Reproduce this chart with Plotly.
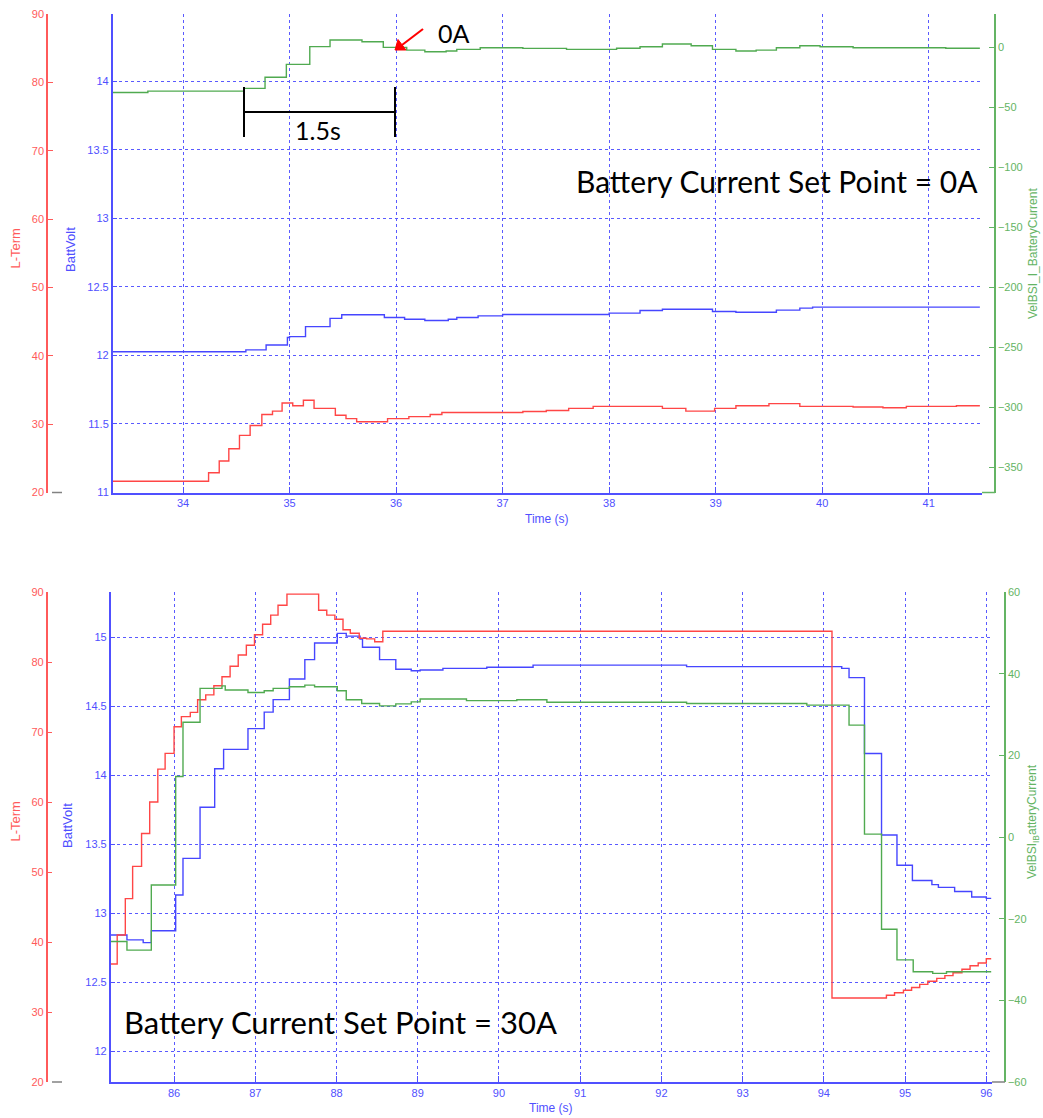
import plotly.graph_objects as go

W, H = 1043, 1118

# ---------------- data: top panel (Battery Current Set Point = 0A) ----------------
top_time_lterm = [33.34, 34.24, 34.34, 34.43, 34.53, 34.63, 34.74, 34.84, 34.93, 35.03, 35.13,
                  35.23, 35.43, 35.53, 35.63, 35.92, 36.12, 36.32, 36.43, 37.19, 37.41, 37.62,
                  37.85, 38.5, 38.72, 38.99, 39.19, 39.5, 39.79, 40.29, 40.57, 40.79, 41.26, 41.48]
top_lterm = [21.65, 22.9, 24.6, 26.4, 28.35, 29.8, 31.4, 31.9, 33.1, 32.7, 33.5,
             32.3, 31.3, 30.8, 30.35, 30.8, 31.1, 31.4, 31.7, 31.85, 32.0, 32.3,
             32.6, 32.3, 31.9, 32.3, 32.7, 33.0, 32.6, 32.5, 32.4, 32.6, 32.7, 32.7]

top_time_volt = [33.34, 34.59, 34.78, 34.98, 35.0, 35.15, 35.38, 35.49, 35.89, 36.08, 36.27,
                 36.49, 36.57, 36.77, 37.0, 38.0, 38.29, 38.5, 38.97, 39.19, 39.57, 39.79,
                 39.91, 41.48]
top_volt = [12.027, 12.04, 12.076, 12.13, 12.137, 12.21, 12.27, 12.296, 12.276, 12.264, 12.254,
            12.264, 12.276, 12.288, 12.298, 12.308, 12.327, 12.337, 12.32, 12.315, 12.33, 12.345,
            12.352, 12.352]

top_time_curr = [33.34, 33.67, 34.57, 34.77, 34.97, 35.19, 35.38, 35.68, 35.88, 36.1, 36.27,
                 36.47, 36.57, 36.79, 37.19, 37.6, 38.07, 38.29, 38.5, 38.77, 38.97, 39.19,
                 39.38, 39.57, 39.79, 39.98, 40.29, 41.16, 41.48]
top_curr = [-37.4, -36.3, -34.0, -24.8, -14.0, 0.8, 6.3, 4.9, 0.2, -2.1, -3.5,
            -2.9, -1.5, -0.1, -0.7, -1.5, -0.6, 0.7, 3.0, 1.5, -1.5, -2.9,
            -2.1, -0.1, 1.5, 0.7, -0.1, -0.6, -0.6]

top_xticks = [34, 35, 36, 37, 38, 39, 40, 41]

# ---------------- data: bottom panel (Battery Current Set Point = 30A) ----------------
bot_time_lterm = [85.22, 85.30, 85.40, 85.49, 85.60, 85.70, 85.80, 85.89, 86.0, 86.09, 86.2,
                  86.29, 86.39, 86.49, 86.59, 86.69, 86.79, 86.89, 86.99, 87.09, 87.19, 87.28,
                  87.39, 87.78, 87.88, 87.98, 88.08, 88.17, 88.28, 88.37, 88.47, 88.57, 94.10,
                  94.77, 94.87, 94.98, 95.08, 95.18, 95.28, 95.39, 95.49, 95.59, 95.70, 95.80,
                  95.90, 96.0, 96.06]
bot_lterm = [36.86, 41.0, 46.2, 50.8, 55.5, 60.0, 64.7, 66.95, 70.76, 72.2, 72.8,
             74.6, 75.3, 76.6, 77.9, 79.4, 81.0, 82.4, 83.9, 85.4, 86.7, 88.1,
             89.7, 87.4, 86.7, 86.1, 84.6, 84.1, 83.4, 83.3, 82.9, 84.4, 32.0,
             32.4, 32.76, 33.1, 33.5, 33.95, 34.4, 34.8, 35.2, 35.6, 36.1, 36.6,
             37.0, 37.6, 37.6]

bot_time_volt = [85.22, 85.42, 85.62, 85.72, 86.02, 86.11, 86.32, 86.50, 86.61, 86.91, 87.11,
                 87.22, 87.42, 87.61, 87.73, 88.01, 88.12, 88.29, 88.32, 88.53, 88.73, 88.92,
                 89.03, 89.31, 89.85, 90.42, 92.31, 94.22, 94.31, 94.5, 94.71, 94.9, 95.09,
                 95.33, 95.41, 95.61, 95.82, 96.0, 96.06]
bot_volt = [12.845, 12.81, 12.79, 12.876, 13.135, 13.40, 13.77, 14.05, 14.19, 14.34, 14.46,
            14.55, 14.70, 14.84, 14.96, 15.03, 15.01, 14.99, 14.93, 14.84, 14.77, 14.76,
            14.765, 14.777, 14.785, 14.80, 14.789, 14.777, 14.71, 14.16, 13.57, 13.35, 13.24,
            13.21, 13.19, 13.16, 13.12, 13.11, 13.11]

bot_time_curr = [85.22, 85.42, 85.72, 86.02, 86.11, 86.32, 86.59, 86.63, 86.91, 87.11, 87.22,
                 87.42, 87.61, 87.73, 88.01, 88.12, 88.31, 88.53, 88.73, 88.92, 89.03, 89.6,
                 90.22, 90.59, 92.31, 93.79, 94.31, 94.5, 94.71, 94.9, 95.1, 95.34, 95.51, 96.06]
bot_curr = [-25.6, -27.7, -11.75, 14.8, 28.1, 36.4, 37.0, 36.0, 35.4, 35.8, 36.4,
            36.8, 37.2, 36.8, 35.8, 33.6, 32.7, 32.1, 32.6, 33.1, 33.8, 33.4,
            33.6, 33.0, 32.7, 32.3, 27.4, 0.7, -22.6, -30.1, -33.0, -33.4, -33.0, -33.0]

bot_xticks = [86, 87, 88, 89, 90, 91, 92, 93, 94, 95, 96]

# ---------------- styling ----------------
RED_LINE = 'rgb(255,70,70)'
BLUE_LINE = 'rgb(70,70,255)'
GREEN_LINE = 'rgb(80,170,80)'
RED_AX = 'rgb(255,90,90)'
BLUE_AX = 'rgb(80,80,255)'
GREEN_AX = 'rgb(100,180,100)'
GRID = 'rgb(90,90,255)'
FONT = 'Liberation Sans, Arial, sans-serif'
BIG = 'Lato, Calibri, sans-serif'
TICK_SIZE = 11


def px(x):
    return x / W


def py(y):
    return 1 - y / H


fig = go.Figure()


def add_line(x, y, xa, ya, color):
    fig.add_trace(go.Scatter(x=x, y=y, xaxis=xa, yaxis=ya, mode='lines',
                             line=dict(color=color, width=1.4, shape='hv'),
                             showlegend=False, hoverinfo='skip'))


add_line(top_time_lterm, top_lterm, 'x', 'y2', RED_LINE)
add_line(top_time_volt, top_volt, 'x', 'y', BLUE_LINE)
add_line(top_time_curr, top_curr, 'x', 'y3', GREEN_LINE)
add_line(bot_time_lterm, bot_lterm, 'x2', 'y5', RED_LINE)
add_line(bot_time_volt, bot_volt, 'x2', 'y4', BLUE_LINE)
add_line(bot_time_curr, bot_curr, 'x2', 'y6', GREEN_LINE)


def xaxis(domain, rng, ticks, anchor):
    return dict(domain=domain, anchor=anchor, range=rng, tickvals=ticks,
                ticks='inside', ticklen=6, tickcolor=BLUE_AX, tickwidth=1,
                showline=True, linecolor=BLUE_AX, linewidth=1.5,
                showgrid=True, gridcolor=GRID, griddash='dot', gridwidth=1,
                zeroline=False, automargin=False,
                tickfont=dict(family=FONT, size=TICK_SIZE, color=BLUE_AX))


def yaxis_main(domain, rng, anchor):
    return dict(domain=domain, anchor=anchor, range=rng, dtick=0.5, tick0=0,
                ticks='inside', ticklen=5, tickcolor=BLUE_AX,
                showline=True, linecolor=BLUE_AX, linewidth=1.5,
                showgrid=True, gridcolor=GRID, griddash='dot', gridwidth=1,
                zeroline=False, automargin=False,
                tickfont=dict(family=FONT, size=TICK_SIZE, color=BLUE_AX))


def yaxis_side(over, pos, side, rng, dtick, color):
    return dict(overlaying=over, anchor='free', position=pos, side=side, range=rng,
                dtick=dtick, tick0=0, ticks='inside', ticklen=5, tickcolor=color,
                showline=True, linecolor=color, linewidth=1.5, showgrid=False,
                zeroline=False, automargin=False,
                tickfont=dict(family=FONT, size=TICK_SIZE, color=color))


top_dom = [py(492.5), py(14)]
bot_dom = [py(1082), py(592)]

fig.update_layout(
    width=W, height=H, margin=dict(l=0, r=0, t=0, b=0),
    paper_bgcolor='white', plot_bgcolor='white', showlegend=False, hovermode=False,
    xaxis=xaxis([px(112.7), px(982)], [33.34, 41.5], top_xticks, 'y'),
    yaxis=yaxis_main(top_dom, [11, 14.49], 'x'),
    yaxis2=yaxis_side('y', px(47), 'left', [20, 90], 10, RED_AX),
    yaxis3=yaxis_side('y', px(995), 'right', [-371, 28], 50, GREEN_AX),
    xaxis2=xaxis([px(110.7), px(992)], [85.22, 96.07], bot_xticks, 'y4'),
    yaxis4=yaxis_main(bot_dom, [11.78, 15.33], 'x2'),
    yaxis5=yaxis_side('y4', px(46.7), 'left', [20, 90], 10, RED_AX),
    yaxis6=yaxis_side('y4', px(1005), 'right', [-60, 60], 20, GREEN_AX),
)

ann = []


def txt(x, y, s, color, size, angle=0, family=FONT, xanchor='center'):
    ann.append(dict(x=px(x), y=py(y), xref='paper', yref='paper', text=s, showarrow=False,
                    textangle=angle, xanchor=xanchor, yanchor='middle',
                    font=dict(family=family, size=size, color=color)))


# axis titles
txt(15.5, 249, 'L-Term', RED_AX, 13, -90)
txt(70, 250, 'BattVolt', BLUE_AX, 13, -90)
txt(1033, 254, 'VelBSI_I_BatteryCurrent', GREEN_AX, 12, -90)
txt(547, 519, 'Time (s)', BLUE_AX, 12)
txt(14.5, 822, 'L-Term', RED_AX, 13, -90)
txt(67, 826, 'BattVolt', BLUE_AX, 13, -90)
txt(1033, 822, 'VelBSI<sub>IB</sub>atteryCurrent', GREEN_AX, 12, -90)
txt(551, 1108, 'Time (s)', BLUE_AX, 12)

# panel labels
txt(980, 181, 'Battery Current Set Point = 0A', 'black', 30, family=BIG, xanchor='right')
txt(122, 1022, 'Battery Current Set Point = 30A', 'black', 31, family=BIG, xanchor='left')
txt(454, 33, '0A', 'black', 25, family=BIG)
txt(318, 130, '1.5s', 'black', 25, family=BIG)

shapes = []


def seg(x0, y0, x1, y1, color, width=1.5):
    shapes.append(dict(type='line', xref='paper', yref='paper', x0=px(x0), y0=py(y0),
                       x1=px(x1), y1=py(y1), line=dict(color=color, width=width)))


# red arrow pointing at the 0A crossing (shaft + head)
seg(423, 29, 402, 45, 'red', 2.2)
shapes.append(dict(type='path', xref='paper', yref='paper',
                   path='M {} {} L {} {} L {} {} Z'.format(px(395), py(50), px(398), py(39.5),
                                                           px(406), py(50)),
                   fillcolor='red', line=dict(color='red', width=1)))

# 1.5 s bracket
seg(244, 112, 395, 112, 'black', 2)
seg(244, 87, 244, 137, 'black', 2)
seg(395, 87, 395, 137, 'black', 2)

# small axis-base segments
seg(52, 492.5, 62, 492.5, 'rgb(130,130,130)')
seg(982, 492.5, 995, 492.5, GREEN_AX)
seg(52, 1082, 62, 1082, 'rgb(130,130,130)')
seg(992, 1082, 1005, 1082, 'rgb(130,130,130)')

fig.update_layout(annotations=ann, shapes=shapes)

fig.write_html('out.html')
